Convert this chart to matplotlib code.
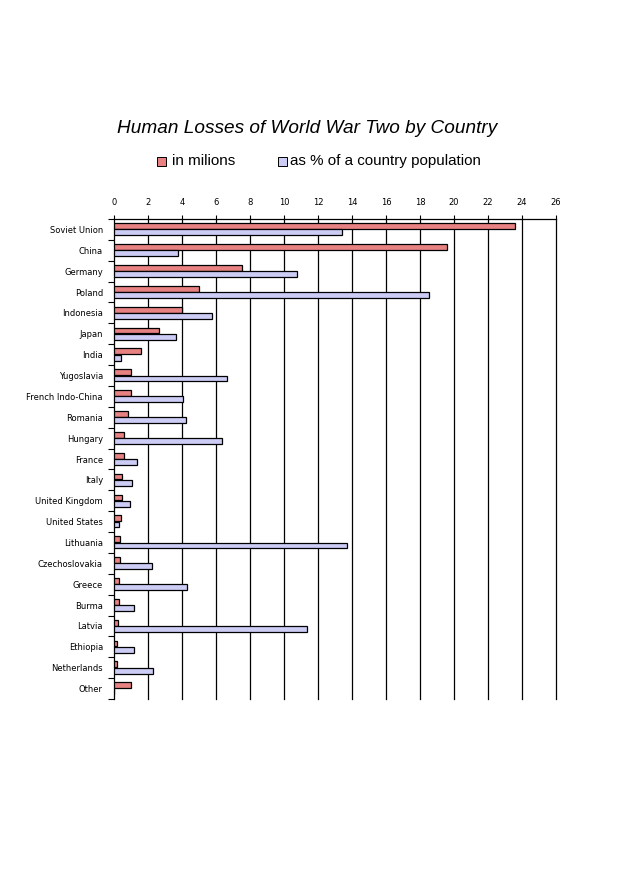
import numpy as np
import matplotlib

matplotlib.use("Agg")
from matplotlib import pyplot as plt

countries = ["Soviet Union", "China", "Germany", "Poland", "Indonesia", "Japan", "India",
             "Yugoslavia", "French Indo-China", "Romania", "Hungary", "France", "Italy",
             "United Kingdom", "United States", "Lithuania", "Czechoslovakia", "Greece",
             "Burma", "Latvia", "Ethiopia", "Netherlands", "Other"]
millions = [23.6, 19.6, 7.5, 5.0, 4.0, 2.65, 1.6, 1.0, 1.0, 0.82, 0.6, 0.6, 0.47, 0.47,
            0.42, 0.35, 0.35, 0.3, 0.3, 0.25, 0.19, 0.19, 1.0]
percent = [13.4, 3.75, 10.75, 18.55, 5.75, 3.65, 0.4, 6.65, 4.05, 4.25, 6.35, 1.35, 1.05,
           0.94, 0.3, 13.7, 2.25, 4.3, 1.18, 11.35, 1.18, 2.3, 0]
xticks = list(range(0, 27, 2))

red = "#e88282"
blue = "#ccccf5"

fig = plt.figure(figsize=(6.2, 8.75), dpi=100)
ax = fig.add_axes([0.1839, 0.2011, 0.7129, 0.5486])

y = np.arange(len(countries))
ax.barh(y - 0.16, millions, height=0.28, color=red, edgecolor="black", linewidth=0.9, zorder=3)
ax.barh(y + 0.14, percent, height=0.28, color=blue, edgecolor="black", linewidth=0.9, zorder=3)

ax.set_xlim(0, 26)
ax.set_ylim(len(countries) - 0.5, -0.5)
ax.set_xticks(xticks)
ax.xaxis.tick_top()
ax.tick_params(axis="x", length=3, width=0.8, pad=6, labelsize=6)
for x in xticks[1:]:
    ax.axvline(x, color="black", linewidth=0.9, zorder=2, clip_on=False)

ax.set_yticks(y)
ax.set_yticklabels(countries)
ax.tick_params(axis="y", which="major", length=0, pad=8, labelsize=6)
ax.set_yticks(np.arange(-0.5, len(countries)), minor=True)
ax.tick_params(axis="y", which="minor", length=4, width=0.8)

for s in ["right", "bottom"]:
    ax.spines[s].set_visible(False)
ax.spines["top"].set_linewidth(0.9)
ax.spines["left"].set_linewidth(0.9)

fig.text(0.495, 0.853, "Human Losses of World War Two by Country", ha="center", va="center",
         fontsize=13.7, style="italic", family="Liberation Sans")

# legend drawn by hand
fig.patches.append(plt.Rectangle((157 / 620, 1 - 166 / 875), 9 / 620, 9 / 875, transform=fig.transFigure,
                                 facecolor=red, edgecolor="black", linewidth=0.7))
fig.text(172 / 620, 1 - 161 / 875, "in milions", va="center", fontsize=11, family="Liberation Sans")
fig.patches.append(plt.Rectangle((278 / 620, 1 - 166 / 875), 9 / 620, 9 / 875, transform=fig.transFigure,
                                 facecolor=blue, edgecolor="black", linewidth=0.7))
fig.text(290 / 620, 1 - 161 / 875, "as % of a country population", va="center", fontsize=10.9,
         family="Liberation Sans")

fig.savefig("out.png", dpi=100, facecolor="white")
